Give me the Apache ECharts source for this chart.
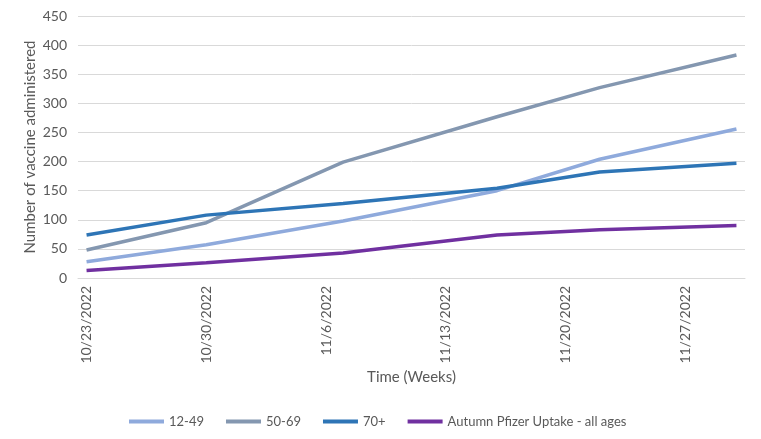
<!DOCTYPE html>
<html>
<head>
<meta charset="utf-8">
<script src="https://cdn.jsdelivr.net/npm/echarts@6/dist/echarts.min.js"></script>
<style>html,body{margin:0;padding:0;background:#fff;}#chart{width:761px;height:439px;}</style>
</head>
<body>
<div id="chart"></div>
<script>
// Axis range (days shown on the date axis)
const axisStart = '10/23/2022';
const axisEnd = '11/30/2022';
// Dates of observations
const dates = ['10/23/2022', '10/30/2022', '11/7/2022', '11/16/2022', '11/22/2022', '11/30/2022'];
// Series values
const age12to49 = [28, 57, 98, 150, 204, 256];
const age50to69 = [48, 95, 199, 277, 327, 383];
const age70plus = [74, 108, 128, 154, 182, 197];
const autumnAll = [13, 26, 43, 74, 83, 90];
const seriesNames = ['12-49', '50-69', '70+', 'Autumn Pfizer Uptake - all ages'];

function parse(s){ const [m,d,y] = s.split('/').map(Number); return new Date(y, m-1, d); }
function fmt(dt){ return (dt.getMonth()+1) + '/' + dt.getDate() + '/' + dt.getFullYear(); }

const categories = [];
for (let dt = parse(axisStart); dt <= parse(axisEnd); dt = new Date(dt.getFullYear(), dt.getMonth(), dt.getDate()+1)) {
  categories.push(fmt(dt));
}
function toSeries(vals){
  const arr = categories.map(() => null);
  dates.forEach((d, i) => { arr[categories.indexOf(fmt(parse(d)))] = vals[i]; });
  return arr;
}

const colors = ['#8FAADC', '#8497B0', '#2E75B6', '#7030A0'];
const allVals = [age12to49, age50to69, age70plus, autumnAll];

const chart = echarts.init(document.getElementById('chart'));
chart.setOption({
  animation: false,
  textStyle: { fontFamily: 'Lato' },
  grid: { left: 78, right: 16, top: 16, bottom: 161 },
  legend: {
    left: 124, top: 410,
    itemWidth: 35, itemHeight: 4, itemGap: 22, icon: 'rect',
    textStyle: { color: '#595959', fontSize: 13, fontFamily: 'Lato' },
    data: seriesNames
  },
  xAxis: {
    type: 'category',
    data: categories,
    boundaryGap: true,
    axisLine: { show: true, lineStyle: { color: '#d9d9d9', width: 1 } },
    axisTick: { show: false },
    axisLabel: { interval: 6, rotate: 90, color: '#595959', fontSize: 14, margin: 8 },
    name: 'Time (Weeks)',
    nameLocation: 'middle',
    nameGap: 92,
    nameMoveOverlap: false,
    nameTextStyle: { color: '#595959', fontSize: 15 }
  },
  yAxis: {
    type: 'value',
    min: 0, max: 450, interval: 50,
    axisLine: { show: false },
    axisTick: { show: false },
    splitLine: { lineStyle: { color: '#d9d9d9', width: 1 } },
    axisLabel: { color: '#595959', fontSize: 14, margin: 11 },
    name: 'Number of vaccine administered',
    nameLocation: 'middle',
    nameGap: 40,
    nameRotate: 90,
    nameMoveOverlap: false,
    nameTextStyle: { color: '#595959', fontSize: 15 }
  },
  series: seriesNames.map((n, i) => ({
    name: n,
    type: 'line',
    data: toSeries(allVals[i]),
    connectNulls: true,
    showSymbol: false,
    symbol: 'none',
    color: colors[i],
    lineStyle: { color: colors[i], width: 3.5 }
  }))
});
</script>
</body>
</html>
